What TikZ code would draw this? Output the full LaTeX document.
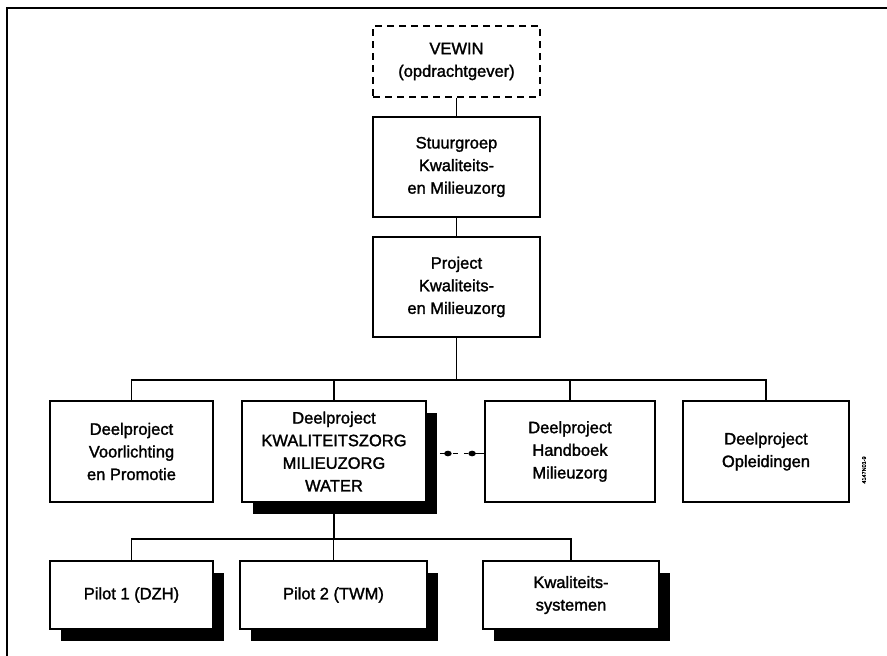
\documentclass[tikz,border=0pt]{standalone}
\usepackage{fontspec}
\newfontfamily\chartfont{Liberation Sans}[FakeBold=1.6]
\usetikzlibrary{shadows,calc}

\tikzset{
  orgbox/.style={draw, line width=1.8pt, fill=white, inner sep=0pt, align=center,
    font=\chartfont\fontsize{16.5}{22.6}\selectfont},
  dashbox/.style={orgbox, dashed, dash pattern=on 7pt off 5pt, line width=1.3pt},
  shadowed/.style={drop shadow={shadow xshift=11pt, shadow yshift=-12pt,
    fill=black, opacity=1}},
  link/.style={line width=1.5pt},
  frameline/.style={line width=1.8pt}
}

\begin{document}
\begin{tikzpicture}[x=1pt, y=-1pt]
\useasboundingbox (0,0) rectangle (887,656);

% page frame (top and left rules)
\coordinate (ftl) at (7,8);
\coordinate (ftr) at (887,8);
\coordinate (fbl) at (7,656);
\draw[frameline] (ftr) -- (ftl) -- (fbl);

% top of the hierarchy
\node[dashbox, minimum width=167pt, minimum height=71pt] (vewin) at (456.5,61.5)
  {VEWIN\\(opdrachtgever)};
\node[orgbox, minimum width=167pt, minimum height=100pt] (stuur) at (456.5,167)
  {Stuurgroep\\Kwaliteits-\\en Milieuzorg};
\node[orgbox, minimum width=167pt, minimum height=100pt] (proj) at (456.5,287)
  {Project\\Kwaliteits-\\en Milieuzorg};

% sub-projects
\node[orgbox, minimum width=163pt, minimum height=101pt] (d1) at (131.5,451.5)
  {Deelproject\\Voorlichting\\en Promotie};
\node[orgbox, shadowed, minimum width=184pt, minimum height=101pt] (d2) at (334,451.5)
  {Deelproject\\KWALITEITSZORG\\MILIEUZORG\\WATER};
\node[orgbox, minimum width=170pt, minimum height=101pt] (d3) at (570,451.5)
  {Deelproject\\Handboek\\Milieuzorg};
\node[orgbox, minimum width=166pt, minimum height=101pt] (d4) at (766,451.5)
  {Deelproject\\Opleidingen};

% pilots
\node[orgbox, shadowed, minimum width=163pt, minimum height=68pt] (p1) at (131.5,595)
  {Pilot 1 (DZH)};
\node[orgbox, shadowed, minimum width=187pt, minimum height=68pt] (p2) at (333.5,595)
  {Pilot 2 (TWM)};
\node[orgbox, shadowed, minimum width=176pt, minimum height=68pt] (p3) at (571,595)
  {Kwaliteits-\\systemen};

% vertical chain
\draw[link] (vewin.south) -- (stuur.north);
\draw[link] (stuur.south) -- (proj.north);

% bus to the sub-projects
\coordinate (busA) at (456.5,380);
\draw[link] (proj.south) -- (busA);
\draw[link] (d1.north) |- (busA) -| (d4.north);
\draw[link] (d2.north) -- (d2.north |- busA);
\draw[link] (d3.north) -- (d3.north |- busA);

% bus to the pilots
\coordinate (busB) at (334,539);
\draw[link] (d2.south) -- (busB);
\draw[link] (p1.north) |- (busB) -| (p3.north);
\draw[link] (p2.north) -- (p2.north |- busB);

% dotted link between the two sub-projects
\coordinate (la) at ([xshift=13pt,yshift=-2pt]d2.east);
\coordinate (lb) at ([yshift=-2pt]d3.west);
\draw[link] (la) -- ++(8,0);
\draw[link] (lb) -- ++(-12,0);
\draw[link, dash pattern=on 5pt off 6pt] ($(la)+(13,0)$) -- ($(lb)+(-16,0)$);
\fill ($(la)+(8,0)$) ellipse (3.8pt and 2.8pt);
\fill ($(lb)+(-12,0)$) ellipse (3.8pt and 2.8pt);

% figure code
\node[rotate=90, font=\chartfont\fontsize{5.5}{6}\selectfont, inner sep=0pt] (code)
  at (864,470) {4147N01-9};
\end{tikzpicture}
\end{document}
